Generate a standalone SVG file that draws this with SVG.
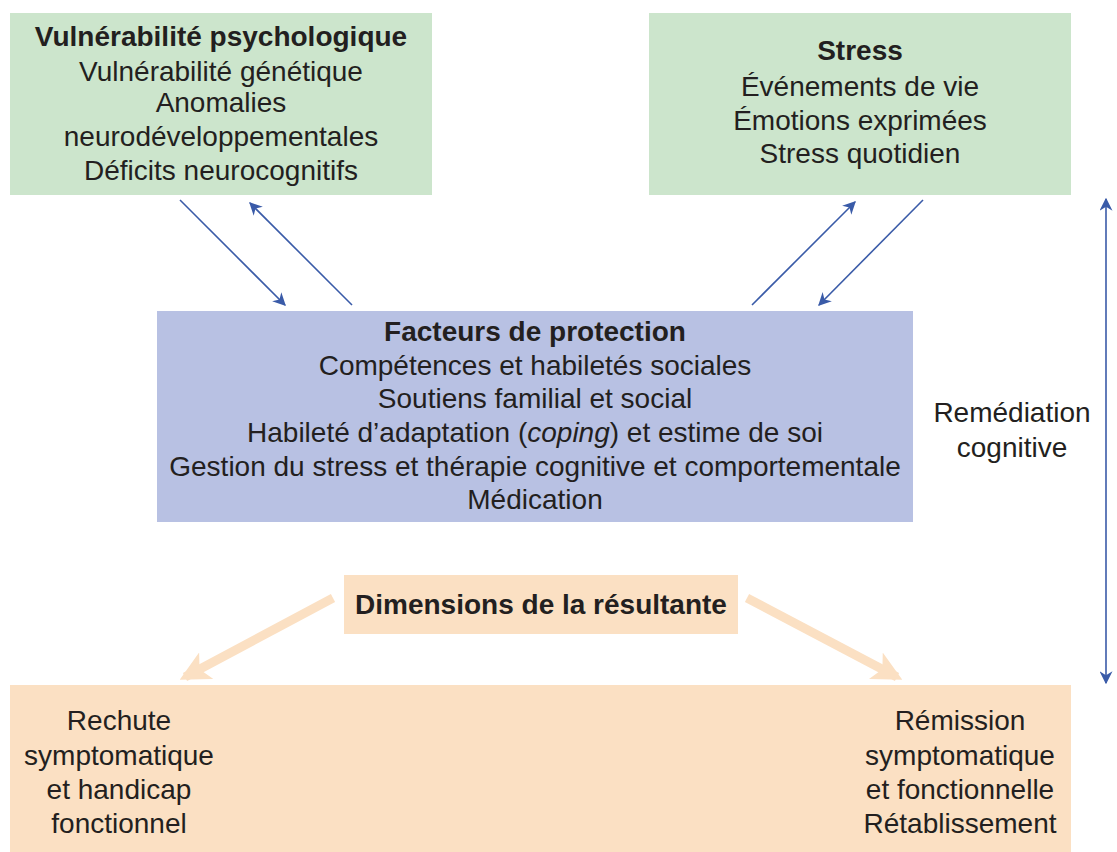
<svg xmlns="http://www.w3.org/2000/svg" width="1117" height="852" viewBox="0 0 1117 852">
<style>
text{font-family:"Liberation Sans",Arial,sans-serif;font-size:28px;fill:#231f20;text-anchor:middle}
.b{font-weight:bold}
.green{fill:#cce5cc}
.blue{fill:#b8c1e3}
.peach{fill:#fbe0c3}
.c{stroke:#3a5ba8;stroke-width:1.6;fill:none}
.o{stroke:#fbe0c3;stroke-width:9;fill:none}
</style>
<defs>
<marker id="ah" viewBox="0 0 10 10" refX="9" refY="5" markerWidth="13" markerHeight="13" markerUnits="userSpaceOnUse" orient="auto-start-reverse"><path d="M0,0 L10,5 L0,10 L3,5 z" fill="#3a5ba8"/></marker>
<marker id="oh" viewBox="0 0 10 10" refX="8" refY="5" markerWidth="30" markerHeight="30" markerUnits="userSpaceOnUse" orient="auto"><path d="M0,0 L10,5 L0,10 L2.5,5 z" fill="#fbe0c3"/></marker>
</defs>
<rect width="1117" height="852" fill="#fff"/>
<g id="vulnerabilite">
<rect class="green" x="10" y="13" width="422" height="182"/>
<text class="b" x="221" y="46">Vulnérabilité psychologique</text>
<text x="221" y="81">Vulnérabilité génétique</text>
<text x="221" y="112">Anomalies</text>
<text x="221" y="146">neurodéveloppementales</text>
<text x="221" y="180">Déficits neurocognitifs</text>
</g>
<g id="stress">
<rect class="green" x="649" y="13" width="422" height="182"/>
<text class="b" x="860" y="60">Stress</text>
<text x="860" y="96">Événements de vie</text>
<text x="860" y="130">Émotions exprimées</text>
<text x="860" y="163">Stress quotidien</text>
</g>
<g id="protection">
<rect class="blue" x="157" y="311" width="756" height="211"/>
<text class="b" x="535" y="341">Facteurs de protection</text>
<text x="535" y="375">Compétences et habiletés sociales</text>
<text x="535" y="408">Soutiens familial et social</text>
<text x="535" y="442">Habileté d’adaptation (<tspan font-style="italic">coping</tspan>) et estime de soi</text>
<text x="535" y="476">Gestion du stress et thérapie cognitive et comportementale</text>
<text x="535" y="509">Médication</text>
</g>
<g id="remediation">
<text x="1012" y="422">Remédiation</text>
<text x="1012" y="457">cognitive</text>
</g>
<g id="dimensions">
<rect class="peach" x="344" y="575" width="394" height="59"/>
<text class="b" x="541" y="614">Dimensions de la résultante</text>
</g>
<g id="resultats">
<rect class="peach" x="10" y="685" width="1061" height="167"/>
<text x="119" y="730">Rechute</text>
<text x="119" y="765">symptomatique</text>
<text x="119" y="799">et handicap</text>
<text x="119" y="833">fonctionnel</text>
<text x="960" y="730">Rémission</text>
<text x="960" y="765">symptomatique</text>
<text x="960" y="799">et fonctionnelle</text>
<text x="960" y="833">Rétablissement</text>
</g>
<g id="connectors">
<line class="c" x1="180" y1="200" x2="285" y2="305" marker-end="url(#ah)"/>
<line class="c" x1="352" y1="305" x2="250" y2="203" marker-end="url(#ah)"/>
<line class="c" x1="752" y1="305" x2="855" y2="202" marker-end="url(#ah)"/>
<line class="c" x1="923" y1="200" x2="819" y2="305" marker-end="url(#ah)"/>
<line class="c" x1="1106" y1="199" x2="1106" y2="683" marker-start="url(#ah)" marker-end="url(#ah)"/>
<line class="o" x1="333" y1="598" x2="185" y2="677" marker-end="url(#oh)"/>
<line class="o" x1="747" y1="598" x2="897" y2="677" marker-end="url(#oh)"/>
</g>
</svg>
